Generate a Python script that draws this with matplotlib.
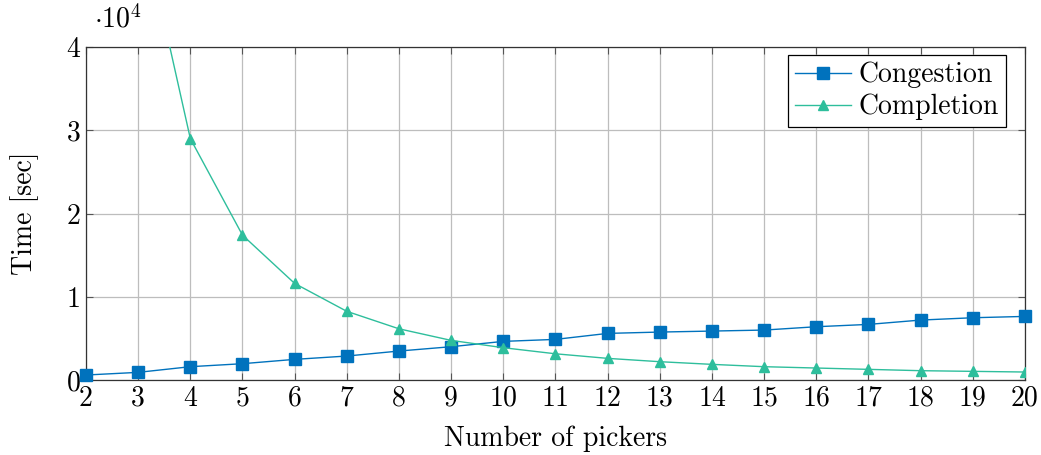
import matplotlib
matplotlib.use("Agg")
import matplotlib.pyplot as plt

plt.rcParams['font.family'] = 'cmr10'
plt.rcParams['mathtext.fontset'] = 'cm'
plt.rcParams['axes.unicode_minus'] = False

pickers = [2, 3, 4, 5, 6, 7, 8, 9, 10, 11, 12, 13, 14, 15, 16, 17, 18, 19, 20]
congestion = [600, 920, 1600, 1960, 2480, 2880, 3480, 4000, 4640, 4880,
              5600, 5760, 5880, 6000, 6400, 6680, 7200, 7480, 7640]
completion = [115000, 57000, 29000, 17400, 11600, 8250, 6150, 4760, 3880, 3150,
              2600, 2200, 1880, 1600, 1440, 1280, 1120, 1040, 960]

blue = '#0072BD'
teal = '#2EBE9C'

fig = plt.figure(figsize=(10.41, 4.55), dpi=100)
ax = fig.add_axes([0.0826, 0.1648, 0.9020, 0.7319])

ax.plot(pickers, congestion, color=blue, lw=1.0, marker='s', ms=8,
        label='Congestion', clip_on=False, zorder=3)
ax.plot(pickers, completion, color=teal, lw=1.0, marker='^', ms=7,
        label='Completion', zorder=3)

ax.set_xlim(2, 20)
ax.set_ylim(0, 40000)
ax.set_xticks(pickers)
ax.set_yticks([0, 10000, 20000, 30000, 40000])
ax.set_yticklabels(['0', '1', '2', '3', '4'])
ax.grid(True, color='#bdbdbd', lw=0.9)
ax.set_axisbelow(True)
ax.tick_params(direction='in', top=True, right=True, length=5, width=0.8,
               labelsize=20, color='#555555', pad=4)
for s in ax.spines.values():
    s.set_linewidth(0.9)
    s.set_color('#333333')

ax.text(0.009, 1.04, r'$\cdot 10^4$', transform=ax.transAxes, fontsize=20,
        ha='left', va='bottom')
ax.set_xlabel('Number of pickers', fontsize=20, labelpad=10)
ax.set_ylabel('Time [sec]', fontsize=20, labelpad=20)

leg = ax.legend(loc='upper right', bbox_to_anchor=(0.980, 0.976),
                fontsize=20, fancybox=False, framealpha=1,
                edgecolor='black', borderpad=0.25, handlelength=2.0,
                handletextpad=0.3, borderaxespad=0.0, labelspacing=0.2)
leg.get_frame().set_linewidth(0.9)

fig.savefig('out.png', dpi=100)
